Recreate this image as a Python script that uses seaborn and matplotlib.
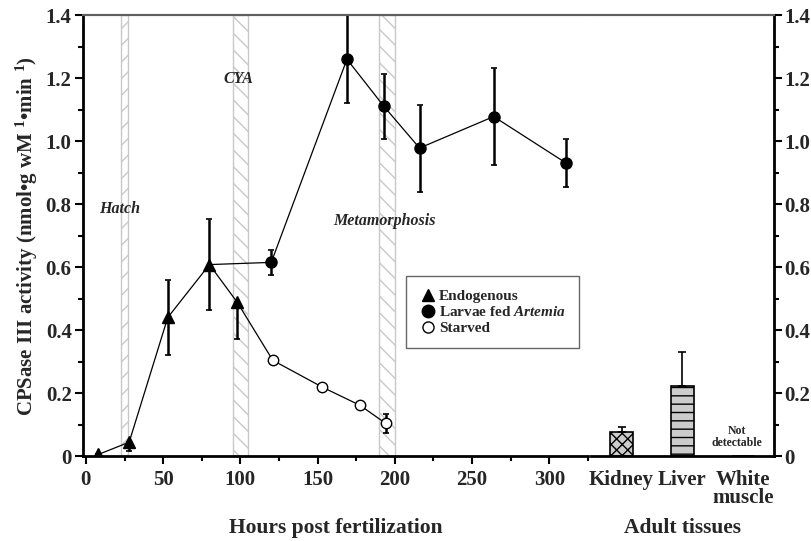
import matplotlib
matplotlib.use("Agg")
import matplotlib.pyplot as plt
from matplotlib.lines import Line2D
from matplotlib.ticker import MultipleLocator
import pandas as pd
import seaborn as sns

# --- data ---
endo_hours = [8, 28, 53, 80, 98]
endo_act = [0.005, 0.044, 0.44, 0.608, 0.488]
endo_err_lo = [0, 0.028, 0.12, 0.145, 0.115]
endo_err_hi = [0, 0, 0.12, 0.145, 0]

fed_hours = [120, 169, 193, 216, 264, 311]
fed_act = [0.615, 1.26, 1.11, 0.978, 1.078, 0.93]
fed_err = [0.04, 0.14, 0.103, 0.138, 0.154, 0.076]

starved_hours = [121, 153, 177.5, 194]
starved_act = [0.304, 0.219, 0.161, 0.104]
starved_err = [0.006, 0.008, 0.01, 0.03]

tissues = ['Kidney', 'Liver', 'White\nmuscle']
tissue_act = [0.075, 0.224, 0.0]
tissue_err = [0.018, 0.106, 0.0]

events = ['Hatch', 'CYA', 'Metamorphosis']
event_start = [23, 95.5, 190]
event_end = [27, 105, 200]

y_ticks = [0, 0.2, 0.4, 0.6, 0.8, 1.0, 1.2, 1.4]
y_tick_labels = ['0', '0.2', '0.4', '0.6', '0.8', '1.0', '1.2', '1.4']

sns.set_theme(style="ticks")
plt.rcParams['font.family'] = ['Liberation Serif', 'DejaVu Serif']
plt.rcParams['font.weight'] = 'bold'
plt.rcParams['axes.labelweight'] = 'bold'
plt.rcParams['mathtext.fontset'] = 'custom'
plt.rcParams['mathtext.rm'] = 'Liberation Serif:bold'
plt.rcParams['mathtext.it'] = 'Liberation Serif:italic:bold'
plt.rcParams['mathtext.bf'] = 'Liberation Serif:bold'
plt.rcParams['hatch.linewidth'] = 1.0

fig = plt.figure(figsize=(8.12, 5.41), dpi=100)
ax = fig.add_axes([0.102, 0.157, 0.622, 0.815])
ax2 = fig.add_axes([0.728, 0.157, 0.225, 0.815])

# developmental event bands
hatches = ['//', '\\\\', '\\\\']
for s, e, h in zip(event_start, event_end, hatches):
    ax.axvspan(s, e, facecolor='white', edgecolor='#c8c8c8', hatch=h, lw=1.0, zorder=0)
ax.text(22, 0.785, 'Hatch', style='italic', fontsize=11.5, ha='center', va='center')
ax.text(99, 1.197, 'CYA', style='italic', fontsize=11.5, ha='center', va='center')
ax.text(193, 0.745, 'Metamorphosis', style='italic', fontsize=11.5, ha='center', va='center')

# connecting lines
line_kw = dict(color='black', lw=0.9, sort=False, estimator=None, ax=ax, zorder=2)
sns.lineplot(x=endo_hours, y=endo_act, **line_kw)
sns.lineplot(x=[endo_hours[3]] + fed_hours, y=[endo_act[3]] + fed_act, **line_kw)
sns.lineplot(x=[endo_hours[4]] + starved_hours, y=[endo_act[4]] + starved_act, **line_kw)

# error bars
eb_kw = dict(fmt='none', ecolor='black', elinewidth=1.8, capsize=2.5, capthick=1.2, zorder=3)
ax.errorbar(endo_hours, endo_act, yerr=[endo_err_lo, endo_err_hi], **eb_kw)
ax.errorbar(fed_hours, fed_act, yerr=fed_err, **eb_kw)
ax.errorbar(starved_hours, starved_act, yerr=starved_err, **eb_kw)

# markers
ax.plot(endo_hours, endo_act, ls='none', marker='^', ms=8.5, color='black', zorder=4)
ax.plot(fed_hours, fed_act, ls='none', marker='o', ms=8, color='black', zorder=4)
ax.plot(starved_hours, starved_act, ls='none', marker='o', ms=7.5, mfc='white',
        mec='black', mew=1.0, zorder=4)

ax.set_xlim(-2, 325)
ax.set_ylim(0, 1.4)
ax.xaxis.set_major_locator(MultipleLocator(50))
ax.xaxis.set_minor_locator(MultipleLocator(25))
ax.set_yticks(y_ticks)
ax.set_yticklabels(y_tick_labels)
ax.yaxis.set_minor_locator(MultipleLocator(0.1))
ax.set_xlabel('Hours post fertilization', fontsize=15.5)
ax.xaxis.set_label_coords(0.5, -0.14)
ax.set_ylabel('CPSase III activity (nmol•g wM $^{1}$•min $^{1}$)', fontsize=15)
ax.yaxis.set_label_coords(-0.085, 0.5)

for a in (ax, ax2):
    a.set_facecolor('white')
    a.tick_params(which='major', length=6, width=1.5, labelsize=15, color='black', pad=2)
    a.tick_params(which='minor', length=3.5, width=1.5, color='black')
    a.spines['top'].set_color('#606060')
    a.spines['top'].set_linewidth(1.5)
    a.spines['bottom'].set_color('black')
    a.spines['bottom'].set_linewidth(2)
    for lbl in a.get_xticklabels() + a.get_yticklabels():
        lbl.set_fontweight('bold')
ax.tick_params(axis='x', which='major', pad=4)

ax.spines['right'].set_visible(False)
ax.spines['left'].set_color('black')
ax.spines['left'].set_linewidth(2)

handles = [
    Line2D([], [], ls='none', marker='^', ms=9, color='black'),
    Line2D([], [], ls='none', marker='o', ms=9, color='black'),
    Line2D([], [], ls='none', marker='o', ms=8, mfc='white', mec='black'),
]
labels = ['Endogenous', 'Larvae fed $\\mathit{Artemia}$', 'Starved']
leg = ax.legend(handles, labels, loc='upper left', bbox_to_anchor=(0.625, 0.425),
                fontsize=11, frameon=True, fancybox=False, edgecolor='#404040',
                handletextpad=0.1, handlelength=1.2, labelspacing=0.15,
                borderpad=0.85)
leg.get_frame().set_linewidth(1.0)

# adult tissues panel
tissue_df = pd.DataFrame({'tissue': tissues, 'act': tissue_act})
sns.barplot(data=tissue_df, x='tissue', y='act', ax=ax2, color='#cccccc',
            width=0.38, edgecolor='black', linewidth=1.2, saturation=1, zorder=2)
for p, h in zip(ax2.patches, ['xxx', '--', '']):
    p.set_hatch(h)
    p.set_facecolor('#cccccc')
ax2.errorbar([0, 1, 2], tissue_act, yerr=[[0, 0, 0], tissue_err], fmt='none',
             ecolor='black', elinewidth=1.2, capsize=3, capthick=1.2, zorder=3)
ax2.text(1.9, 0.08, 'Not', fontsize=8.5, ha='center', va='center')
ax2.text(1.9, 0.04, 'detectable', fontsize=8.5, ha='center', va='center')

ax2.set_xlim(-0.5, 2.5)
ax2.set_ylim(0, 1.4)
ax2.set_yticks(y_ticks)
ax2.set_yticklabels(y_tick_labels)
ax2.yaxis.set_minor_locator(MultipleLocator(0.1))
ax2.yaxis.tick_right()
ax2.yaxis.set_ticks_position('right')
ax2.yaxis.set_tick_params(which='both', left=False, right=True, pad=1.5)
ax2.tick_params(axis='x', length=0, labelsize=15, pad=10)
ax2.spines['left'].set_visible(False)
ax2.spines['right'].set_color('black')
ax2.spines['right'].set_linewidth(2)
ax2.set_xlabel('Adult tissues', fontsize=15.5)
ax2.xaxis.set_label_coords(0.5, -0.14)
ax2.set_ylabel('')
for lbl in ax2.get_xticklabels():
    lbl.set_linespacing(0.85)

# continuous grey frame line across both panels
fig.add_artist(Line2D([0.102, 0.953], [0.972, 0.972], color='#606060', lw=1.5))

fig.savefig('out.png', dpi=100)
